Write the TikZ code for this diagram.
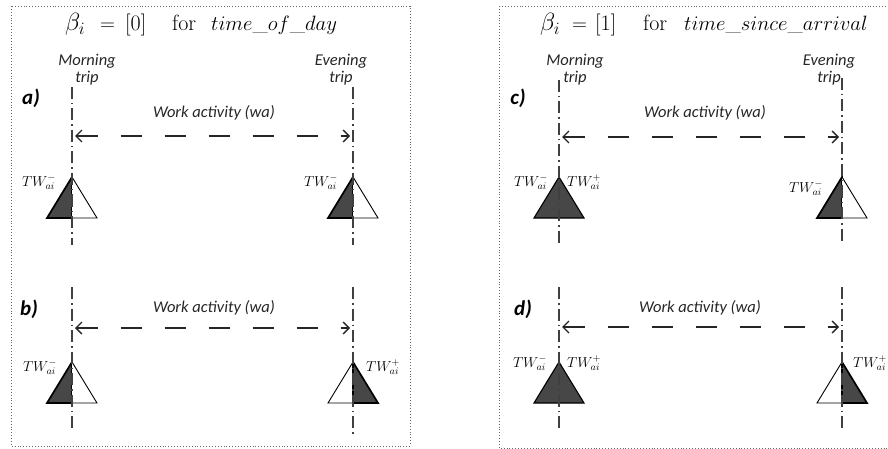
\documentclass[tikz,border=0pt]{standalone}
\usepackage{fontspec}
\setsansfont{Carlito}
\usetikzlibrary{arrows.meta}

\tikzset{
  panel/.style={draw=black!60, dotted, line width=0.9pt},
  axis/.style={draw=black!75, line width=1.1pt, dash pattern=on 12pt off 4pt on 1.5pt off 4pt},
  span/.style={draw=black!85, line width=1.4pt, dash pattern=on 21pt off 23pt,
    {Straight Barb[length=6pt,width=12pt,line width=1.4pt]}-{Straight Barb[length=6pt,width=12pt,line width=1.4pt]}},
  triplab/.style={font=\sffamily\itshape\fontsize{16.5}{17}\selectfont, text=black!85, align=center},
  worklab/.style={font=\sffamily\itshape\fontsize{16.5}{17}\selectfont, text=black!85},
  caselab/.style={font=\sffamily\bfseries\itshape\fontsize{21}{21}\selectfont},
  twlab/.style={font=\fontsize{14}{14}\selectfont, inner sep=0pt},
  titlelab/.style={font=\fontsize{22}{22}\selectfont, inner sep=0pt, anchor=base west}
}
\tikzset{
  dark/.style={fill=black!72, draw=black, line width=1.7pt, line join=miter},
  light/.style={fill=white, draw=black, line width=0.9pt, line join=miter}
}

\begin{document}
\begin{tikzpicture}[x=1pt,y=-1pt]
  \useasboundingbox (0,0) rectangle (888,449);
  \draw[panel] (11,6) rectangle (410,446);
  \draw[panel] (499,6) rectangle (900,448);

  % titles
  \node[titlelab] (t0b) at (65,31) {\fontsize{25}{25}\selectfont$\beta_i$};
  \node[titlelab] (t0e) at (100,31) {$=$};
  \node[titlelab] (t0v) at (125,31) {[0]};
  \node[titlelab] (t0f) at (172,31) {for};
  \node[titlelab] (t0s) at (211,31) {$time\_of\_day$};
  \node[titlelab] (t1b) at (540,31) {\fontsize{25}{25}\selectfont$\beta_i$};
  \node[titlelab] (t1e) at (572,31) {$=$};
  \node[titlelab] (t1v) at (595,31) {[1]};
  \node[titlelab] (t1f) at (643,31) {for};
  \node[titlelab] (t1s) at (684,31) {$time\_since\_arrival$};

  % trip labels
  \node[triplab] (mor0) at (87,70) {Morning\\trip};
  \node[triplab] (eve0) at (341,70) {Evening\\trip};
  \node[triplab] (mor1) at (575,70) {Morning\\trip};
  \node[triplab] (eve1) at (829,70) {Evening\\trip};

  \node[caselab] (ca) at (31,98) {a)};
  \node[caselab] (cb) at (29,309) {b)};
  \node[caselab] (cc) at (518,98) {c)};
  \node[caselab] (cd) at (523,309) {d)};

  % triangle apexes
  \coordinate (pa1) at (72,177);  \coordinate (pa2) at (353,177);
  \coordinate (pb1) at (72,362);  \coordinate (pb2) at (353,362);
  \coordinate (pc1) at (559,177); \coordinate (pc2) at (842,177);
  \coordinate (pd1) at (559,362); \coordinate (pd2) at (842,362);

  % time windows
  \draw[dark] (pa1) -- ++(-25,41) -- ++(25,0) -- cycle;
  \draw[light] (pa1) -- ++(25,41) -- ++(-25,0);
  \draw[dark] (pa2) -- ++(-25,41) -- ++(25,0) -- cycle;
  \draw[light] (pa2) -- ++(25,41) -- ++(-25,0);
  \draw[dark] (pb1) -- ++(-25,41) -- ++(25,0) -- cycle;
  \draw[light] (pb1) -- ++(25,41) -- ++(-25,0);
  \draw[light] (pb2) -- ++(-25,41) -- ++(25,0);
  \draw[dark] (pb2) -- ++(25,41) -- ++(-25,0) -- cycle;
  \draw[dark, line width=1.1pt] (pc1) -- ++(-25,41) -- ++(50,0) -- cycle;
  \draw[dark] (pc2) -- ++(-25,41) -- ++(25,0) -- cycle;
  \draw[light] (pc2) -- ++(25,41) -- ++(-25,0);
  \draw[dark, line width=1.1pt] (pd1) -- ++(-25,41) -- ++(50,0) -- cycle;
  \draw[light] (pd2) -- ++(-25,41) -- ++(25,0);
  \draw[dark] (pd2) -- ++(25,41) -- ++(-25,0) -- cycle;

  % trip axes
  \draw[axis] (72,87) -- (72,245);
  \draw[axis] (353,87) -- (353,245);
  \draw[axis] (72,287) -- (72,430);
  \draw[axis] (353,287) -- (353,434);
  \draw[axis] (559,80) -- (559,246);
  \draw[axis] (842,78) -- (842,244);
  \draw[axis] (559,287) -- (559,430);
  \draw[axis] (842,287) -- (842,430);

  % window labels
  \node[twlab, anchor=east] (wa1) at (56,182) {$TW_{ai}^{-}$};
  \node[twlab, anchor=east] (wa2) at (338,182) {$TW_{ai}^{-}$};
  \node[twlab, anchor=east] (wb1) at (57,367) {$TW_{ai}^{-}$};
  \node[twlab, anchor=west] (wb2) at (366,367) {$TW_{ai}^{+}$};
  \node[twlab, anchor=east] (wc1) at (548,182) {$TW_{ai}^{-}$};
  \node[twlab, anchor=west] (wc2) at (567,182) {$TW_{ai}^{+}$};
  \node[twlab, anchor=east] (wc3) at (823,188) {$TW_{ai}^{-}$};
  \node[twlab, anchor=east] (wd1) at (547,363) {$TW_{ai}^{-}$};
  \node[twlab, anchor=west] (wd2) at (567,363) {$TW_{ai}^{+}$};
  \node[twlab, anchor=west] (wd3) at (853,363) {$TW_{ai}^{+}$};

  % work activity spans
  \coordinate (sa1) at (75,136);  \coordinate (sa2) at (350,136);
  \coordinate (sb1) at (75,328);  \coordinate (sb2) at (350,328);
  \coordinate (sc1) at (562,137); \coordinate (sc2) at (839,137);
  \coordinate (sd1) at (562,327); \coordinate (sd2) at (839,327);
  \draw[span] (sa1) -- (sa2);
  \draw[span] (sb1) -- (sb2);
  \draw[span] (sc1) -- (sc2);
  \draw[span] (sd1) -- (sd2);
  \node[worklab] (wka) at (214,113) {Work activity (wa)};
  \node[worklab] (wkb) at (214,308) {Work activity (wa)};
  \node[worklab] (wkc) at (705,113) {Work activity (wa)};
  \node[worklab] (wkd) at (700,308) {Work activity (wa)};
\end{tikzpicture}
\end{document}
